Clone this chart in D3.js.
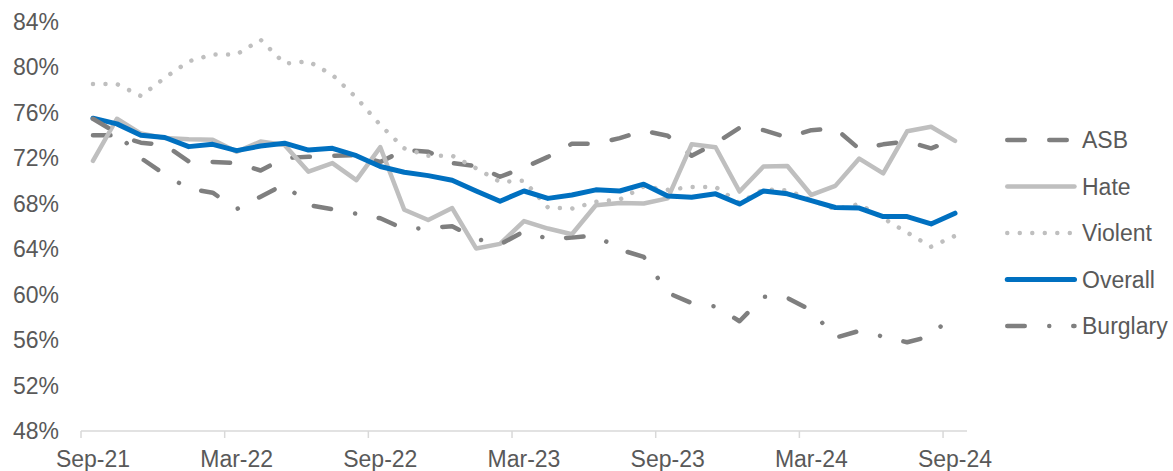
<!DOCTYPE html>
<html>
<head>
<meta charset="utf-8">
<script src="https://cdn.jsdelivr.net/npm/d3@7"></script>
<style>
  body { margin: 0; background: #fff; }
  #chart text { font-family: "Liberation Sans", Arial, sans-serif; fill: #595959; }
</style>
</head>
<body>
<div id="chart"></div>
<script>
// monthly categories, Sep-21 .. Sep-24
var months = d3.timeMonths(new Date(2021, 8, 1), new Date(2024, 9, 1));
var tickLabels = ["Sep-21", "Mar-22", "Sep-22", "Mar-23", "Sep-23", "Mar-24", "Sep-24"];
var yTicks = [48, 52, 56, 60, 64, 68, 72, 76, 80, 84];

var asb = [74.0, 74.0, 73.35, 73.15, 71.7, 71.65, 71.55, 70.9, 72.0, 72.1, 72.2, 72.25, 71.65,
  72.7, 72.55, 71.55, 71.3, 70.35, 71.15, 72.1, 73.25, 73.25, 73.75, 74.4, 73.95, 72.2, 73.3,
  74.65, 74.45, 73.8, 74.45, 74.6, 72.8, 73.2, 73.45, 72.85, 73.65];
var hate = [71.75, 75.45, 74.15, 73.75, 73.65, 73.6, 72.55, 73.45, 73.15, 70.8, 71.55, 70.05, 72.95,
  67.45, 66.55, 67.6, 64.05, 64.45, 66.45, 65.8, 65.3, 67.85, 68.05, 68.0, 68.45, 73.2, 72.95,
  69.05, 71.25, 71.3, 68.75, 69.55, 71.95, 70.65, 74.35, 74.75, 73.5];
var violent = [78.5, 78.5, 77.45, 79.05, 80.5, 81.1, 81.1, 82.4, 80.3, 80.5, 79.3, 77.3, 74.9,
  72.85, 72.2, 72.2, 71.1, 69.9, 70.0, 67.65, 67.55, 68.15, 68.35, 69.5, 69.2, 69.45, 69.45,
  68.05, 69.25, 69.15, 68.3, 67.5, 67.95, 66.7, 65.45, 64.2, 65.15];
var overall = [75.5, 75.0, 74.0, 73.8, 73.0, 73.2, 72.65, 73.05, 73.3, 72.7, 72.85, 72.2, 71.25,
  70.75, 70.45, 70.05, 69.1, 68.2, 69.1, 68.45, 68.75, 69.2, 69.1, 69.7, 68.65, 68.55, 68.85,
  67.95, 69.1, 68.85, 68.25, 67.65, 67.6, 66.85, 66.85, 66.2, 67.15];
var burglary = [75.45, 74.2, 72.0, 70.55, 69.3, 68.95, 67.5, 68.6, 69.7, 67.85, 67.5, 67.1, 66.7,
  65.75, 65.85, 66.0, 64.9, 64.4, 65.55, 64.9, 65.0, 65.2, 63.95, 63.3, 60.15, 59.25, 58.95,
  57.65, 59.8, 59.7, 58.6, 56.2, 56.8, 56.3, 55.8, 56.35, 58.45];

var series = [
  {name: "ASB", values: asb, color: "#7f7f7f", width: 4.5, dash: "17.5 24.5"},
  {name: "Hate", values: hate, color: "#bfbfbf", width: 4.5, dash: null},
  {name: "Violent", values: violent, color: "#bfbfbf", width: 4.5, dash: "0.01 12.5"},
  {name: "Overall", values: overall, color: "#0070c0", width: 5, dash: null},
  {name: "Burglary", values: burglary, color: "#7f7f7f", width: 4.5, dash: "17.5 24.5 0.01 24"}
];

var width = 1173, height = 471;
var fontSize = "23px";
var fmt = d3.timeFormat("%b-%y");

var x = d3.scaleBand()
  .domain(months.map(fmt))
  .range([81, 967])
  .padding(0);

var y = d3.scaleLinear()
  .domain([48, 84])
  .range([431, 21.5]);

var svg = d3.select("#chart").append("svg")
  .attr("width", width)
  .attr("height", height);

// y labels (no gridlines in the original)
svg.append("g").selectAll("text")
  .data(yTicks)
  .enter().append("text")
  .attr("x", 59)
  .attr("y", function(d) { return y(d); })
  .attr("dy", "0.35em")
  .attr("text-anchor", "end")
  .style("font-size", fontSize)
  .text(function(d) { return d + "%"; });

// category axis: line + tick marks between categories every 6 months
var axis = svg.append("g");
axis.append("line")
  .attr("x1", x.range()[0]).attr("x2", x.range()[1])
  .attr("y1", y(48)).attr("y2", y(48))
  .attr("stroke", "#d9d9d9").attr("stroke-width", 1.5);

var tickIdx = d3.range(0, months.length, 6);
axis.selectAll("line.tick")
  .data(tickIdx)
  .enter().append("line")
  .attr("class", "tick")
  .attr("x1", function(i) { return x(fmt(months[i])); })
  .attr("x2", function(i) { return x(fmt(months[i])); })
  .attr("y1", y(48)).attr("y2", y(48) + 7)
  .attr("stroke", "#d9d9d9").attr("stroke-width", 1.5);

axis.selectAll("text")
  .data(tickLabels)
  .enter().append("text")
  .attr("x", function(d) { return x(d) + x.bandwidth() / 2; })
  .attr("y", 467)
  .attr("text-anchor", "middle")
  .style("font-size", fontSize)
  .text(function(d) { return d; });

var line = d3.line()
  .x(function(d, i) { return x(fmt(months[i])) + x.bandwidth() / 2; })
  .y(function(d) { return y(d); });

svg.append("g").selectAll("path")
  .data(series)
  .enter().append("path")
  .attr("d", function(s) { return line(s.values); })
  .attr("fill", "none")
  .attr("stroke", function(s) { return s.color; })
  .attr("stroke-width", function(s) { return s.width; })
  .attr("stroke-dasharray", function(s) { return s.dash; })
  .attr("stroke-linecap", "round")
  .attr("stroke-linejoin", "round");

// legend
var legend = svg.append("g").selectAll("g")
  .data(series)
  .enter().append("g")
  .attr("transform", function(s, i) { return "translate(0," + (140 + i * 46.5) + ")"; });

legend.append("line")
  .attr("x1", 1007.25).attr("x2", 1074.5)
  .attr("y1", 0).attr("y2", 0)
  .attr("stroke", function(s) { return s.color; })
  .attr("stroke-width", function(s) { return s.width; })
  .attr("stroke-dasharray", function(s) { return s.dash; })
  .attr("stroke-linecap", "round");

legend.append("text")
  .attr("x", 1082)
  .attr("y", 0)
  .attr("dy", "0.35em")
  .style("font-size", fontSize)
  .text(function(s) { return s.name; });
</script>
</body>
</html>
